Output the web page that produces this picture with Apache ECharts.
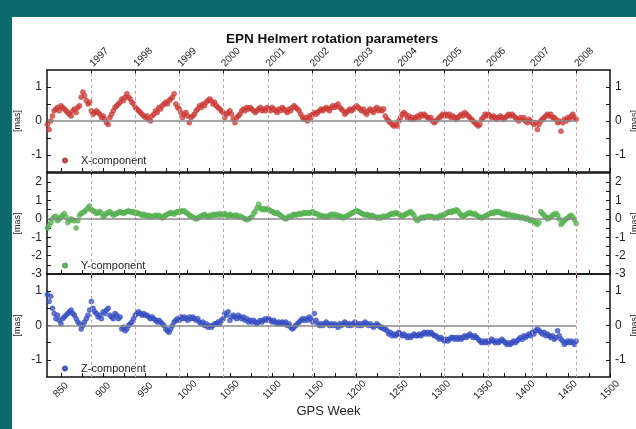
<!DOCTYPE html>
<html>
<head>
<meta charset="utf-8">
<script src="https://cdn.jsdelivr.net/npm/echarts@6/dist/echarts.min.js"></script>
<style>
  html, body { margin: 0; padding: 0; background: #0b6a6b; }
  #chart { position: absolute; left: 12px; top: 17px; width: 624px; height: 412px; background: #fff; }
</style>
</head>
<body>
<div id="chart"></div>
<script>
// GPS weeks: first sample and spacing (one value every 2 weeks)
const weekStart = 834
const weekStep = 2

// rotation parameters [mas]
const xComp = [
  -0.1, -0.25, 0.0, 0.15, 0.3, 0.35, 0.4, 0.3, 0.45, 0.4,
  0.35, 0.3, 0.25, 0.2, 0.15, 0.3, 0.35, 0.25, 0.4, 0.45,
  0.7, 0.85, 0.75, 0.6, 0.5, 0.55, 0.3, 0.2, 0.25, 0.3,
  0.25, 0.2, 0.1, 0.15, 0.05, -0.05, -0.1, 0.1, 0.2, 0.3,
  0.4, 0.45, 0.5, 0.55, 0.65, 0.6, 0.7, 0.8, 0.7, 0.65,
  0.55, 0.5, 0.4, 0.35, 0.3, 0.25, 0.2, 0.15, 0.1, 0.15,
  0.05, 0.0, 0.15, 0.2, 0.3, 0.25, 0.4, 0.35, 0.45, 0.5,
  0.55, 0.5, 0.6, 0.65, 0.7, 0.8, 0.5, 0.4, 0.35, 0.25,
  0.1, 0.2, 0.25, 0.15, -0.05, 0.1, 0.15, 0.2, 0.3, 0.35,
  0.45, 0.4, 0.5, 0.45, 0.55, 0.6, 0.65, 0.6, 0.5, 0.55,
  0.45, 0.4, 0.35, 0.3, 0.25, 0.1, 0.2, 0.25, 0.3, 0.2,
  0.05, -0.05, 0.1, 0.15, 0.2, 0.3, 0.35, 0.3, 0.4, 0.35,
  0.4, 0.35, 0.3, 0.25, 0.3, 0.35, 0.4, 0.3, 0.35, 0.3,
  0.4, 0.35, 0.3, 0.4, 0.35, 0.3, 0.25, 0.35, 0.3, 0.4,
  0.35, 0.3, 0.25, 0.35, 0.3, 0.4, 0.45, 0.4, 0.35, 0.3,
  0.2, 0.1, 0.05, 0.1, 0.0, 0.15, 0.1, 0.2, 0.25, 0.2,
  0.25, 0.3, 0.35, 0.3, 0.35, 0.4, 0.35, 0.3, 0.4, 0.45,
  0.4, 0.45, 0.5, 0.4, 0.35, 0.3, 0.2, 0.25, 0.3, 0.35,
  0.3, 0.35, 0.4, 0.45, 0.4, 0.35, 0.3, 0.35, 0.25, 0.2,
  0.3, 0.35, 0.3, 0.25, 0.35, 0.4, 0.3, 0.35, 0.3, 0.35,
  0.15, 0.05, 0.0, -0.05, -0.1, -0.15, -0.1, -0.15, 0.0, 0.1,
  0.2, 0.25, 0.2, 0.1, 0.15, 0.05, 0.1, 0.05, 0.1, 0.15,
  0.1, 0.2, 0.15, 0.2, 0.15, 0.1, 0.05, 0.1, 0.0, -0.05,
  0.0, 0.05, 0.1, 0.15, 0.2, 0.15, 0.2, 0.15, 0.2, 0.1,
  0.15, 0.1, 0.05, 0.1, 0.15, 0.2, 0.15, 0.25, 0.2, 0.15,
  0.1, 0.05, 0.0, -0.05, -0.1, -0.15, -0.1, 0.05, 0.1, 0.2,
  0.15, 0.2, 0.15, 0.1, 0.15, 0.1, 0.05, 0.1, 0.15, 0.1,
  0.05, 0.1, 0.15, 0.2, 0.15, 0.2, 0.15, 0.1, 0.05, 0.0,
  0.1, 0.05, 0.1, 0.0, -0.05, 0.05, 0.0, -0.05, -0.1, -0.05,
  -0.25, -0.1, 0.0, 0.05, 0.1, 0.15, 0.2, 0.15, 0.2, 0.1,
  0.1, 0.05, -0.05, 0.0, -0.3, -0.05, 0.05, 0.0, 0.1, 0.05,
  0.15, 0.2, 0.1, 0.05
]

const yComp = [
  -0.5, -0.35, -0.2, 0.0, 0.1, 0.15, -0.1, 0.0, 0.1, 0.2,
  0.3, 0.1, -0.2, -0.1, 0.0, -0.05, -0.1, -0.5, -0.1, 0.2,
  0.3, 0.35, 0.4, 0.5, 0.6, 0.7, 0.5, 0.45, 0.4, 0.3,
  0.35, 0.4, 0.3, 0.1, 0.2, 0.3, 0.35, 0.4, 0.3, 0.2,
  0.25, 0.3, 0.35, 0.4, 0.35, 0.3, 0.35, 0.4, 0.45, 0.4,
  0.35, 0.4, 0.3, 0.35, 0.3, 0.25, 0.2, 0.25, 0.2, 0.15,
  0.2, 0.15, 0.1, 0.15, 0.2, 0.15, 0.2, 0.1, 0.05, 0.15,
  0.2, 0.25, 0.3, 0.35, 0.3, 0.25, 0.35, 0.4, 0.35, 0.45,
  0.4, 0.45, 0.35, 0.3, 0.2, 0.15, 0.1, 0.05, 0.0, 0.05,
  0.1, 0.15, 0.2, 0.25, 0.15, 0.1, 0.2, 0.15, 0.25, 0.2,
  0.25, 0.2, 0.3, 0.2, 0.25, 0.3, 0.2, 0.15, 0.25, 0.2,
  0.15, 0.2, 0.2, 0.1, 0.15, 0.1, 0.05, 0.0, -0.05, 0.0,
  0.05, 0.1, 0.3, 0.4, 0.6, 0.8, 0.6, 0.5, 0.55, 0.5,
  0.55, 0.5, 0.45, 0.4, 0.35, 0.3, 0.35, 0.25, 0.2, 0.1,
  0.05, 0.0, 0.05, 0.15, 0.1, 0.2, 0.25, 0.2, 0.25, 0.3,
  0.25, 0.3, 0.35, 0.3, 0.35, 0.3, 0.35, 0.4, 0.3, 0.3,
  0.25, 0.15, 0.2, 0.15, 0.1, 0.15, 0.1, 0.2, 0.25, 0.2,
  0.25, 0.15, 0.2, 0.1, 0.15, 0.05, 0.1, 0.15, 0.2, 0.25,
  0.3, 0.35, 0.4, 0.45, 0.4, 0.35, 0.3, 0.25, 0.2, 0.25,
  0.2, 0.15, 0.2, 0.15, 0.1, 0.05, 0.1, 0.05, 0.1, 0.15,
  0.1, 0.15, 0.2, 0.25, 0.3, 0.25, 0.35, 0.3, 0.25, 0.2,
  0.15, 0.2, 0.25, 0.3, 0.35, 0.4, 0.3, 0.2, 0.0, -0.1,
  0.0, 0.05, 0.1, 0.05, 0.1, 0.15, 0.1, 0.15, 0.1, 0.05,
  0.1, 0.05, 0.15, 0.2, 0.15, 0.25, 0.3, 0.35, 0.4, 0.35,
  0.45, 0.4, 0.5, 0.45, 0.3, 0.2, 0.15, 0.2, 0.25, 0.3,
  0.35, 0.3, 0.25, 0.3, 0.2, 0.15, 0.1, 0.05, 0.1, 0.15,
  0.2, 0.25, 0.3, 0.35, 0.3, 0.4, 0.35, 0.4, 0.35, 0.3,
  0.25, 0.3, 0.2, 0.25, 0.2, 0.15, 0.2, 0.1, 0.15, 0.1,
  0.05, 0.1, 0.05, 0.0, 0.05, -0.05, -0.1, -0.05, -0.15, -0.2,
  -0.3, -0.2, 0.4, 0.3, 0.2, 0.1, 0.0, 0.05, 0.1, 0.2,
  0.25, 0.3, 0.2, 0.0, -0.3, -0.2, -0.1, 0.0, 0.05, 0.15,
  0.2, 0.1, -0.05, -0.25
]

const zComp = [
  0.9, 0.7, 0.85, 0.5, 0.35, 0.2, 0.3, 0.15, 0.05, 0.2,
  0.25, 0.3, 0.35, 0.4, 0.45, 0.35, 0.3, 0.2, 0.1, 0.05,
  -0.1, 0.0, 0.1, 0.2, 0.3, 0.45, 0.7, 0.5, 0.4, 0.35,
  0.25, 0.3, 0.2, 0.4, 0.35, 0.45, 0.5, 0.3, 0.25, 0.2,
  0.35, 0.3, 0.2, 0.25, -0.1, -0.05, -0.15, -0.1, 0.0, 0.05,
  0.1, 0.2, 0.3, 0.35, 0.4, 0.35, 0.3, 0.35, 0.3, 0.3,
  0.25, 0.2, 0.25, 0.2, 0.15, 0.1, 0.15, 0.1, 0.05, 0.0,
  -0.1, -0.15, -0.2, -0.1, 0.0, 0.1, 0.15, 0.2, 0.15, 0.25,
  0.2, 0.25, 0.2, 0.15, 0.25, 0.2, 0.25, 0.2, 0.15, 0.2,
  0.1, 0.05, 0.1, 0.0, 0.05, -0.05, 0.0, -0.05, 0.0, 0.05,
  0.05, 0.1, 0.05, 0.15, 0.2, 0.35, 0.3, 0.4, 0.15, 0.25,
  0.3, 0.25, 0.2, 0.3, 0.25, 0.2, 0.25, 0.15, 0.2, 0.1,
  0.15, 0.1, 0.15, 0.1, 0.05, 0.1, 0.15, 0.1, 0.15, 0.2,
  0.15, 0.2, 0.15, 0.1, 0.15, 0.1, 0.05, 0.1, 0.05, 0.1,
  0.05, 0.1, 0.0, 0.05, -0.05, -0.1, -0.05, 0.0, 0.05, 0.1,
  0.15, 0.2, 0.15, 0.2, 0.15, 0.25, 0.2, 0.1, 0.35, 0.15,
  0.05, 0.0, 0.05, 0.0, 0.05, 0.1, 0.05, 0.0, 0.05, 0.0,
  0.05, 0.0, -0.05, 0.05, 0.0, 0.05, 0.1, 0.05, 0.0, 0.05,
  0.0, 0.05, 0.1, 0.05, 0.0, 0.05, 0.0, 0.05, 0.1, 0.05,
  0.0, 0.05, 0.0, -0.05, 0.0, 0.05, 0.0, -0.05, -0.05, -0.1,
  -0.1, -0.15, -0.25, -0.2, -0.3, -0.25, -0.3, -0.25, -0.2, -0.25,
  -0.3, -0.25, -0.3, -0.35, -0.3, -0.35, -0.3, -0.25, -0.3, -0.3,
  -0.25, -0.3, -0.25, -0.2, -0.25, -0.2, -0.25, -0.2, -0.25, -0.3,
  -0.3, -0.35, -0.4, -0.35, -0.4, -0.45, -0.4, -0.45, -0.4, -0.35,
  -0.35, -0.4, -0.35, -0.4, -0.35, -0.4, -0.35, -0.3, -0.35, -0.3,
  -0.25, -0.3, -0.35, -0.3, -0.35, -0.4, -0.45, -0.5, -0.45, -0.5,
  -0.45, -0.5, -0.45, -0.4, -0.45, -0.5, -0.45, -0.5, -0.45, -0.4,
  -0.45, -0.5, -0.55, -0.5, -0.55, -0.5, -0.45, -0.5, -0.45, -0.4,
  -0.35, -0.4, -0.3, -0.35, -0.3, -0.25, -0.3, -0.2, -0.25, -0.15,
  -0.1, -0.15, -0.2, -0.25, -0.2, -0.3, -0.25, -0.3, -0.35, -0.3,
  -0.4, -0.35, -0.15, -0.3, -0.4, -0.45, -0.55, -0.5, -0.45, -0.5,
  -0.45, -0.5, -0.55, -0.45
]

// top axis: first GPS week of each year
const yearLabels = ['1997', '1998', '1999', '2000', '2001', '2002', '2003', '2004', '2005', '2006', '2007', '2008']
const yearWeeks = [886, 938, 990, 1042, 1095, 1147, 1199, 1251, 1304, 1356, 1408, 1460]

// bottom axis
const weekLabels = [850, 900, 950, 1000, 1050, 1100, 1150, 1200, 1250, 1300, 1350, 1400, 1450, 1500]
const weekTicks = [850, 875, 900, 925, 950, 975, 1000, 1025, 1050, 1075, 1100, 1125, 1150, 1175, 1200,
  1225, 1250, 1275, 1300, 1325, 1350, 1375, 1400, 1425, 1450, 1475, 1500]

// y axes
const smallLabels = [-1, 0, 1]
const smallTicks = [-1, -0.5, 0, 0.5, 1]
const bigLabels = [-3, -2, -1, 0, 1, 2]
const bigTicks = [-2.5, -2, -1.5, -1, -0.5, 0, 0.5, 1, 1.5, 2]

const seriesNames = ['X-component', 'Y-component', 'Z-component']
const seriesColors = ['#d8403c', '#5dba57', '#3b55cc']
const seriesBorders = ['#a82a26', '#3f9a3c', '#263ca6']

const font = 'Liberation Sans, Arial, sans-serif'
const weekMin = 833.5
const weekMax = 1500

const myChart = echarts.init(document.getElementById('chart'))

function toPoints (values) {
  return values.map((v, i) => [weekStart + i * weekStep, v])
}
const lastWeek = weekStart + (xComp.length - 1) * weekStep

const grids = [
  { left: 35, right: 26, top: 53, height: 102 },
  { left: 35, right: 26, top: 156, height: 101 },
  { left: 35, right: 26, top: 257, height: 103 }
]

const axisLine = { show: true, onZero: false, lineStyle: { color: '#111', width: 1.5 } }
const xAxes = []
const yAxes = []
grids.forEach((g, i) => {
  // bottom: GPS week
  xAxes.push({
    type: 'value',
    gridIndex: i,
    position: 'bottom',
    min: weekMin,
    max: weekMax,
    axisLine: axisLine,
    splitLine: { show: false },
    axisTick: { show: true, inside: true, length: 4, customValues: weekTicks, lineStyle: { color: '#111' } },
    axisLabel: {
      show: i === 2,
      customValues: weekLabels,
      rotate: 45,
      align: 'center',
      verticalAlign: 'middle',
      margin: 13,
      fontSize: 10,
      color: '#222',
      fontFamily: font,
      formatter: v => String(v)
    },
    name: i === 2 ? 'GPS Week' : '',
    nameLocation: 'middle',
    nameGap: 28,
    nameTextStyle: { fontSize: 13, color: '#222', fontFamily: font }
  })
  // top: years
  xAxes.push({
    type: 'value',
    gridIndex: i,
    position: 'top',
    min: weekMin,
    max: weekMax,
    axisLine: axisLine,
    splitLine: { show: false },
    axisTick: { show: true, inside: true, length: 5, customValues: yearWeeks, lineStyle: { color: '#111' } },
    axisLabel: {
      show: i === 0,
      customValues: yearWeeks,
      rotate: -45,
      align: 'left',
      verticalAlign: 'middle',
      margin: 5,
      fontSize: 10,
      color: '#222',
      fontFamily: font,
      formatter: v => yearLabels[yearWeeks.indexOf(v)] || ''
    }
  })
  const big = i === 1
  const yBase = {
    type: 'value',
    gridIndex: i,
    min: big ? -3 : -1.5,
    max: big ? 2.5 : 1.5,
    axisLine: axisLine,
    splitLine: { show: false },
    axisTick: { show: true, inside: true, length: 4, customValues: big ? bigTicks : smallTicks, lineStyle: { color: '#111' } },
    axisLabel: { customValues: big ? bigLabels : smallLabels, margin: 5, fontSize: 12, color: '#222', fontFamily: font }
  }
  yAxes.push(Object.assign({}, yBase, { position: 'left' }))
  yAxes.push(Object.assign({}, yBase, { position: 'right' }))
})

const allData = [xComp, yComp, zComp]
const series = []
allData.forEach((vals, i) => {
  // reference lines: year boundaries and zero line
  series.push({
    type: 'scatter',
    xAxisIndex: i * 2,
    yAxisIndex: i * 2,
    data: [],
    silent: true,
    z: 1,
    markLine: {
      silent: true,
      symbol: 'none',
      animation: false,
      label: { show: false },
      data: yearWeeks.map(w => ({ xAxis: w, lineStyle: { color: '#d99a9a', type: [3, 3], width: 1 } }))
        .concat([[
          { coord: [weekStart, 0], lineStyle: { color: '#8a8a8a', type: 'solid', width: 1.5 } },
          { coord: [lastWeek, 0] }
        ]])
    }
  })
  series.push({
    name: seriesNames[i],
    type: 'scatter',
    xAxisIndex: i * 2,
    yAxisIndex: i * 2,
    symbol: 'circle',
    symbolSize: 5,
    z: 3,
    itemStyle: { color: seriesColors[i], borderColor: seriesBorders[i], borderWidth: 0.5 },
    data: toPoints(vals)
  })
})

// "[mas]" unit labels beside each panel (left and right; the right one runs off the edge)
const unitText = []
grids.forEach(g => {
  const cy = g.top + g.height / 2
  ;[6, 623].forEach(x => {
    unitText.push({
      type: 'text',
      x: x,
      y: cy,
      rotation: Math.PI / 2,
      style: { text: '[mas]', fontSize: 9, fill: '#222', fontFamily: font, align: 'center', verticalAlign: 'middle' }
    })
  })
})

const legendTops = [133, 238, 341]
const option = {
  animation: false,
  title: {
    text: 'EPN Helmert rotation parameters',
    left: 209,
    top: 10,
    textStyle: { fontSize: 13.5, fontWeight: 'bold', color: '#111', fontFamily: font }
  },
  legend: seriesNames.map((n, i) => ({
    data: [n],
    left: 45,
    top: legendTops[i],
    icon: 'circle',
    itemWidth: 22,
    itemHeight: 4,
    itemGap: 0,
    textStyle: { fontSize: 11, color: '#222', fontFamily: font }
  })),
  graphic: { elements: unitText },
  grid: grids,
  xAxis: xAxes,
  yAxis: yAxes,
  series: series
}

myChart.setOption(option)
</script>
</body>
</html>
